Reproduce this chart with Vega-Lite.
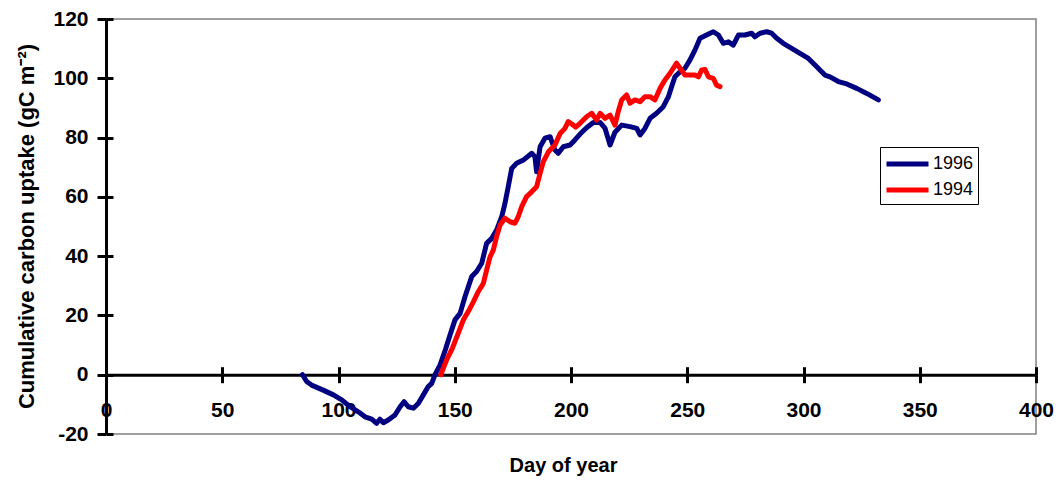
{
  "$schema": "https://vega.github.io/schema/vega-lite/v6.json",
  "width": 930,
  "height": 415,
  "autosize": {"type": "none"},
  "padding": {"left": 106, "top": 19, "right": 28, "bottom": 56},
  "background": "white",
  "config": {"view": {"stroke": "#808080", "strokeWidth": 1.5}, "font": "Liberation Sans"},
  "data": {"values": [
    {"day": 84.5, "c": 0, "year": "1996"},
    {"day": 86.3, "c": -2.3, "year": "1996"},
    {"day": 88.4, "c": -3.5, "year": "1996"},
    {"day": 93.4, "c": -5.2, "year": "1996"},
    {"day": 97.8, "c": -6.8, "year": "1996"},
    {"day": 101.4, "c": -8.5, "year": "1996"},
    {"day": 105, "c": -10.8, "year": "1996"},
    {"day": 108.5, "c": -12.5, "year": "1996"},
    {"day": 111.4, "c": -14.2, "year": "1996"},
    {"day": 114.3, "c": -15.0, "year": "1996"},
    {"day": 116.4, "c": -16.4, "year": "1996"},
    {"day": 117.8, "c": -15.0, "year": "1996"},
    {"day": 119.3, "c": -16.2, "year": "1996"},
    {"day": 121.4, "c": -15.3, "year": "1996"},
    {"day": 124.3, "c": -13.6, "year": "1996"},
    {"day": 126.5, "c": -10.8, "year": "1996"},
    {"day": 128.2, "c": -9.1, "year": "1996"},
    {"day": 130, "c": -10.8, "year": "1996"},
    {"day": 132.2, "c": -11.3, "year": "1996"},
    {"day": 134.3, "c": -9.7, "year": "1996"},
    {"day": 136.5, "c": -6.8, "year": "1996"},
    {"day": 138.6, "c": -4.0, "year": "1996"},
    {"day": 140.1, "c": -2.9, "year": "1996"},
    {"day": 141.5, "c": 0, "year": "1996"},
    {"day": 143.7, "c": 3.3, "year": "1996"},
    {"day": 146, "c": 8.5, "year": "1996"},
    {"day": 148, "c": 13.5, "year": "1996"},
    {"day": 150.1, "c": 18.5, "year": "1996"},
    {"day": 152.3, "c": 20.7, "year": "1996"},
    {"day": 154.4, "c": 26.3, "year": "1996"},
    {"day": 157.3, "c": 33.1, "year": "1996"},
    {"day": 159.4, "c": 34.8, "year": "1996"},
    {"day": 161.6, "c": 37.6, "year": "1996"},
    {"day": 163.7, "c": 44.3, "year": "1996"},
    {"day": 165.9, "c": 46.0, "year": "1996"},
    {"day": 168, "c": 48.8, "year": "1996"},
    {"day": 170.2, "c": 53.3, "year": "1996"},
    {"day": 171.6, "c": 57.8, "year": "1996"},
    {"day": 173, "c": 63.4, "year": "1996"},
    {"day": 174.5, "c": 69.6, "year": "1996"},
    {"day": 176.6, "c": 71.3, "year": "1996"},
    {"day": 179.5, "c": 72.4, "year": "1996"},
    {"day": 183.1, "c": 74.7, "year": "1996"},
    {"day": 184.5, "c": 73.5, "year": "1996"},
    {"day": 185.2, "c": 68.5, "year": "1996"},
    {"day": 186.7, "c": 76.9, "year": "1996"},
    {"day": 188.8, "c": 79.8, "year": "1996"},
    {"day": 191, "c": 80.3, "year": "1996"},
    {"day": 193.1, "c": 75.8, "year": "1996"},
    {"day": 194.5, "c": 74.7, "year": "1996"},
    {"day": 196.7, "c": 76.9, "year": "1996"},
    {"day": 199.6, "c": 77.5, "year": "1996"},
    {"day": 201.7, "c": 79.2, "year": "1996"},
    {"day": 203.9, "c": 81.2, "year": "1996"},
    {"day": 206.8, "c": 83.4, "year": "1996"},
    {"day": 209.6, "c": 85.1, "year": "1996"},
    {"day": 212.5, "c": 85.1, "year": "1996"},
    {"day": 214.6, "c": 83.2, "year": "1996"},
    {"day": 216.8, "c": 77.5, "year": "1996"},
    {"day": 218.9, "c": 81.8, "year": "1996"},
    {"day": 221.8, "c": 84.2, "year": "1996"},
    {"day": 225.4, "c": 83.7, "year": "1996"},
    {"day": 228.3, "c": 83.1, "year": "1996"},
    {"day": 229.7, "c": 80.9, "year": "1996"},
    {"day": 231.8, "c": 83.1, "year": "1996"},
    {"day": 234, "c": 86.5, "year": "1996"},
    {"day": 236.8, "c": 88.2, "year": "1996"},
    {"day": 239.7, "c": 90.4, "year": "1996"},
    {"day": 241.9, "c": 93.8, "year": "1996"},
    {"day": 243.3, "c": 97.2, "year": "1996"},
    {"day": 244.7, "c": 100.5, "year": "1996"},
    {"day": 246.9, "c": 102.2, "year": "1996"},
    {"day": 249, "c": 103.4, "year": "1996"},
    {"day": 251.2, "c": 106.2, "year": "1996"},
    {"day": 253.3, "c": 109.5, "year": "1996"},
    {"day": 255.5, "c": 113.5, "year": "1996"},
    {"day": 258.3, "c": 114.6, "year": "1996"},
    {"day": 261.2, "c": 115.7, "year": "1996"},
    {"day": 263.4, "c": 114.6, "year": "1996"},
    {"day": 265.5, "c": 111.8, "year": "1996"},
    {"day": 267.7, "c": 112.3, "year": "1996"},
    {"day": 269.8, "c": 111.2, "year": "1996"},
    {"day": 272, "c": 114.6, "year": "1996"},
    {"day": 274.8, "c": 114.6, "year": "1996"},
    {"day": 277.7, "c": 115.2, "year": "1996"},
    {"day": 279.1, "c": 114.0, "year": "1996"},
    {"day": 281.3, "c": 115.2, "year": "1996"},
    {"day": 284.2, "c": 115.7, "year": "1996"},
    {"day": 286.3, "c": 115.2, "year": "1996"},
    {"day": 288.5, "c": 113.5, "year": "1996"},
    {"day": 291.3, "c": 111.8, "year": "1996"},
    {"day": 294.9, "c": 110.1, "year": "1996"},
    {"day": 298.5, "c": 108.4, "year": "1996"},
    {"day": 302.1, "c": 106.7, "year": "1996"},
    {"day": 305.7, "c": 103.9, "year": "1996"},
    {"day": 309.2, "c": 101.1, "year": "1996"},
    {"day": 311.4, "c": 100.5, "year": "1996"},
    {"day": 315, "c": 98.9, "year": "1996"},
    {"day": 318.6, "c": 98.1, "year": "1996"},
    {"day": 322.9, "c": 96.6, "year": "1996"},
    {"day": 327.2, "c": 94.9, "year": "1996"},
    {"day": 332.2, "c": 92.7, "year": "1996"},
    {"day": 144, "c": 0, "year": "1994"},
    {"day": 146.5, "c": 5, "year": "1994"},
    {"day": 149, "c": 9, "year": "1994"},
    {"day": 151.5, "c": 14, "year": "1994"},
    {"day": 153.7, "c": 18.5, "year": "1994"},
    {"day": 155.8, "c": 21.3, "year": "1994"},
    {"day": 158, "c": 24.6, "year": "1994"},
    {"day": 160.1, "c": 28.0, "year": "1994"},
    {"day": 162.3, "c": 30.8, "year": "1994"},
    {"day": 163.7, "c": 35.3, "year": "1994"},
    {"day": 165.2, "c": 39.8, "year": "1994"},
    {"day": 166.6, "c": 42.1, "year": "1994"},
    {"day": 168, "c": 46.6, "year": "1994"},
    {"day": 169.5, "c": 50.5, "year": "1994"},
    {"day": 171.6, "c": 52.8, "year": "1994"},
    {"day": 173.8, "c": 51.6, "year": "1994"},
    {"day": 175.9, "c": 51.1, "year": "1994"},
    {"day": 177.3, "c": 53.3, "year": "1994"},
    {"day": 178.8, "c": 56.7, "year": "1994"},
    {"day": 180.9, "c": 60.1, "year": "1994"},
    {"day": 183.1, "c": 61.7, "year": "1994"},
    {"day": 185.2, "c": 63.4, "year": "1994"},
    {"day": 186.7, "c": 67.9, "year": "1994"},
    {"day": 188.1, "c": 71.9, "year": "1994"},
    {"day": 190.3, "c": 75.2, "year": "1994"},
    {"day": 193.1, "c": 77.5, "year": "1994"},
    {"day": 195.3, "c": 81.4, "year": "1994"},
    {"day": 197.4, "c": 83.1, "year": "1994"},
    {"day": 198.8, "c": 85.4, "year": "1994"},
    {"day": 200.5, "c": 84.5, "year": "1994"},
    {"day": 202, "c": 83.5, "year": "1994"},
    {"day": 203.9, "c": 84.8, "year": "1994"},
    {"day": 206.7, "c": 87.0, "year": "1994"},
    {"day": 208.9, "c": 88.2, "year": "1994"},
    {"day": 211, "c": 85.9, "year": "1994"},
    {"day": 212.5, "c": 88.2, "year": "1994"},
    {"day": 214.6, "c": 86.5, "year": "1994"},
    {"day": 216.8, "c": 87.6, "year": "1994"},
    {"day": 218.9, "c": 84.2, "year": "1994"},
    {"day": 220.3, "c": 88.7, "year": "1994"},
    {"day": 221.8, "c": 92.7, "year": "1994"},
    {"day": 223.9, "c": 94.4, "year": "1994"},
    {"day": 225.4, "c": 91.6, "year": "1994"},
    {"day": 227.5, "c": 92.7, "year": "1994"},
    {"day": 229.7, "c": 92.1, "year": "1994"},
    {"day": 231.8, "c": 93.8, "year": "1994"},
    {"day": 234, "c": 93.8, "year": "1994"},
    {"day": 236.1, "c": 92.7, "year": "1994"},
    {"day": 238.3, "c": 96.6, "year": "1994"},
    {"day": 240.4, "c": 99.4, "year": "1994"},
    {"day": 242.6, "c": 101.7, "year": "1994"},
    {"day": 245.4, "c": 105.1, "year": "1994"},
    {"day": 246.9, "c": 103.4, "year": "1994"},
    {"day": 249, "c": 101.1, "year": "1994"},
    {"day": 251.2, "c": 101.1, "year": "1994"},
    {"day": 253.3, "c": 101.1, "year": "1994"},
    {"day": 254.8, "c": 100.5, "year": "1994"},
    {"day": 256.2, "c": 102.8, "year": "1994"},
    {"day": 257.6, "c": 103.0, "year": "1994"},
    {"day": 259.1, "c": 100.5, "year": "1994"},
    {"day": 261.2, "c": 100.0, "year": "1994"},
    {"day": 262.6, "c": 97.7, "year": "1994"},
    {"day": 264.1, "c": 97.2, "year": "1994"}
  ]},
  "layer": [
    {
      "mark": {"type": "line", "strokeWidth": 5, "strokeJoin": "round", "strokeCap": "round"},
      "encoding": {
        "x": {"field": "day", "type": "quantitative", "scale": {"domain": [0, 400], "nice": false},
          "axis": {"orient": "bottom", "offset": -59.3, "values": [0, 50, 100, 150, 200, 250, 300, 350, 400],
            "domainColor": "black", "domainWidth": 3, "tickColor": "black", "tickWidth": 3, "tickSize": 8,
            "labelFont": "Liberation Sans", "labelFontSize": 21, "labelFontWeight": "bold", "labelColor": "black",
            "labelPadding": 17, "labelFlush": false, "labelOverlap": false, "grid": false,
            "title": "Day of year", "titleFont": "Liberation Sans", "titleFontSize": 20, "titleFontWeight": "bold",
            "titleColor": "black", "titleX": 457, "titleY": 97, "titleBaseline": "alphabetic", "titleAlign": "center"}},
        "y": {"field": "c", "type": "quantitative", "scale": {"domain": [-20, 120], "nice": false},
          "axis": {"orient": "left", "values": [-20, 0, 20, 40, 60, 80, 100, 120], "labelExpr": "datum.value + ''",
            "domainColor": "black", "domainWidth": 3, "tickColor": "black", "tickWidth": 3, "tickSize": 9,
            "labelFont": "Liberation Sans", "labelFontSize": 21, "labelFontWeight": "bold", "labelColor": "black",
            "labelPadding": 9, "labelFlush": false, "labelOverlap": false, "grid": false,
            "title": "Cumulative carbon uptake (gC m⁻²)", "titleFont": "Liberation Sans", "titleFontSize": 22,
            "titleFontWeight": "bold", "titleColor": "black", "titleX": -73, "titleY": 207, "titleAngle": -90,
            "titleBaseline": "alphabetic", "titleAlign": "center"}},
        "color": {"field": "year", "type": "nominal",
          "scale": {"domain": ["1996", "1994"], "range": ["#000080", "#FF0000"]},
          "legend": {"orient": "none", "legendX": 774, "legendY": 128, "title": null, "symbolType": "M-1,0H3",
            "symbolSize": 441, "symbolStrokeWidth": 5, "labelFont": "Liberation Sans", "labelFontSize": 18,
            "labelColor": "black", "strokeColor": "black", "fillColor": "white", "padding": 4, "rowPadding": 3,
            "labelOffset": 23}}
      }
    },
    {
      "mark": {"type": "line", "strokeWidth": 5, "opacity": 0},
      "encoding": {
        "x": {"field": "day", "type": "quantitative", "scale": {"domain": [0, 400], "nice": false},
          "axis": {"orient": "top", "offset": -355.7, "values": [0, 50, 100, 150, 200, 250, 300, 350, 400],
            "domain": false, "tickColor": "black", "tickWidth": 3, "tickSize": 8, "labels": false, "grid": false, "title": null}},
        "y": {"field": "c", "type": "quantitative", "scale": {"domain": [-20, 120], "nice": false},
          "axis": {"orient": "right", "offset": -930, "values": [-20, 0, 20, 40, 60, 80, 100, 120],
            "domain": false, "tickColor": "black", "tickWidth": 3, "tickSize": 7, "labels": false, "grid": false, "title": null}},
        "detail": {"field": "year", "type": "nominal"}
      }
    }
  ],
  "resolve": {"axis": {"x": "independent", "y": "independent"}}
}
